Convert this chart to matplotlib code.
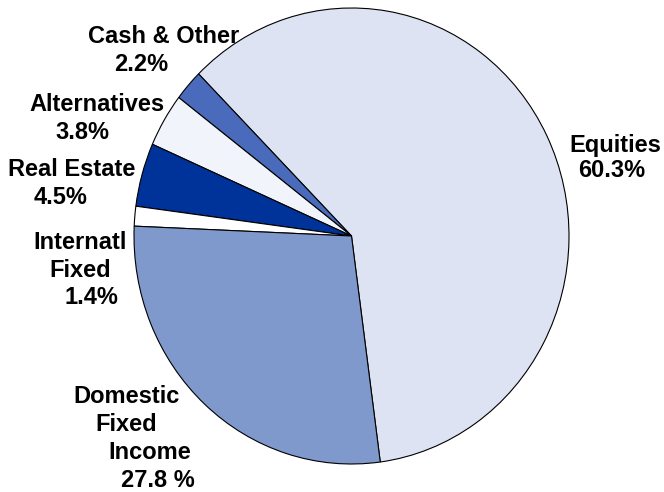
import matplotlib
matplotlib.use("Agg")
import matplotlib.pyplot as plt

# Asset allocation (percent of portfolio), in drawing order (counter-clockwise)
categories = ["Equities", "Cash & Other", "Alternatives", "Real Estate",
              "Internatl Fixed", "Domestic Fixed Income"]
weights = [60.3, 2.2, 3.8, 4.5, 1.4, 27.8]
colors = ["#dde3f3", "#4a6bbb", "#f2f4fb", "#003399", "#ffffff", "#7f99cc"]

# Label text, split over lines as displayed
label_lines = [
    ["Equities", "60.3%"],
    ["Cash & Other", "2.2%"],
    ["Alternatives", "3.8%"],
    ["Real Estate", "4.5%"],
    ["Internatl", "Fixed", "1.4%"],
    ["Domestic", "Fixed", "Income", "27.8 %"],
]
# (x center, baseline y) in pixels from the top-left for each label line
label_pos = [
    [(615, 152), (612, 177)],
    [(164, 43), (141, 71)],
    [(97, 111), (82, 139)],
    [(72, 176), (61, 204)],
    [(80, 249), (80, 277), (91, 304)],
    [(127, 403), (126, 431), (150, 459), (158, 487)],
]

W, H = 664, 492
fig = plt.figure(figsize=(W / 100, H / 100), dpi=100)
ax = fig.add_axes([134 / W, (H - 464) / H, 435 / W, 456 / H])
ax.pie(weights, colors=colors, startangle=-82.4, counterclock=True,
       wedgeprops=dict(edgecolor="black", linewidth=0.8))
ax.set_aspect("auto")
ax.set_xlim(-1, 1)
ax.set_ylim(-1, 1)
ax.axis("off")

for lines, positions in zip(label_lines, label_pos):
    for text, (px, py) in zip(lines, positions):
        fig.text(px / W, 1 - py / H, text, ha="center", va="baseline",
                 fontsize=17, fontweight="bold", family="Liberation Sans",
                 color="black")

fig.savefig("out.png", dpi=100)
